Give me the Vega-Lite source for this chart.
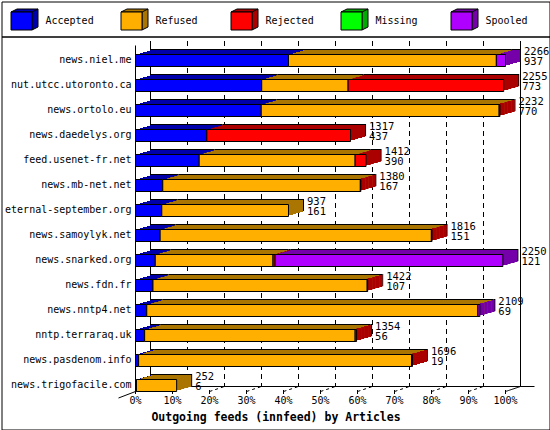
{
  "$schema": "https://vega.github.io/schema/vega-lite/v6.json",
  "padding": {"left": 0.5, "top": 0.5, "right": 0, "bottom": 0},
  "spacing": 0,
  "bounds": "flush",
  "background": "white",
  "config": {
    "font": "DejaVu Sans Mono",
    "view": {"stroke": "black", "strokeWidth": 1},
    "axis": {"grid": false, "translate": 0, "domainColor": "black", "tickColor": "black", "labelColor": "black", "titleColor": "black", "labelFont": "DejaVu Sans Mono", "titleFont": "DejaVu Sans Mono"}
  },
  "datasets": {
    "feeds": [
      {"feed": "news.niel.me", "cat": "Accepted", "n": 937},
      {"feed": "news.niel.me", "cat": "Refused", "n": 1273},
      {"feed": "news.niel.me", "cat": "Spooled", "n": 56},
      {"feed": "nut.utcc.utoronto.ca", "cat": "Accepted", "n": 773},
      {"feed": "nut.utcc.utoronto.ca", "cat": "Refused", "n": 529},
      {"feed": "nut.utcc.utoronto.ca", "cat": "Rejected", "n": 953},
      {"feed": "news.ortolo.eu", "cat": "Accepted", "n": 770},
      {"feed": "news.ortolo.eu", "cat": "Refused", "n": 1457},
      {"feed": "news.ortolo.eu", "cat": "Rejected", "n": 5},
      {"feed": "news.daedelys.org", "cat": "Accepted", "n": 437},
      {"feed": "news.daedelys.org", "cat": "Rejected", "n": 880},
      {"feed": "feed.usenet-fr.net", "cat": "Accepted", "n": 390},
      {"feed": "feed.usenet-fr.net", "cat": "Refused", "n": 955},
      {"feed": "feed.usenet-fr.net", "cat": "Rejected", "n": 67},
      {"feed": "news.mb-net.net", "cat": "Accepted", "n": 167},
      {"feed": "news.mb-net.net", "cat": "Refused", "n": 1210},
      {"feed": "news.mb-net.net", "cat": "Rejected", "n": 3},
      {"feed": "eternal-september.org", "cat": "Accepted", "n": 161},
      {"feed": "eternal-september.org", "cat": "Refused", "n": 776},
      {"feed": "news.samoylyk.net", "cat": "Accepted", "n": 151},
      {"feed": "news.samoylyk.net", "cat": "Refused", "n": 1661},
      {"feed": "news.samoylyk.net", "cat": "Rejected", "n": 4},
      {"feed": "news.snarked.org", "cat": "Accepted", "n": 121},
      {"feed": "news.snarked.org", "cat": "Refused", "n": 721},
      {"feed": "news.snarked.org", "cat": "Rejected", "n": 13},
      {"feed": "news.snarked.org", "cat": "Spooled", "n": 1395},
      {"feed": "news.fdn.fr", "cat": "Accepted", "n": 107},
      {"feed": "news.fdn.fr", "cat": "Refused", "n": 1312},
      {"feed": "news.fdn.fr", "cat": "Rejected", "n": 3},
      {"feed": "news.nntp4.net", "cat": "Accepted", "n": 69},
      {"feed": "news.nntp4.net", "cat": "Refused", "n": 2028},
      {"feed": "news.nntp4.net", "cat": "Spooled", "n": 12},
      {"feed": "nntp.terraraq.uk", "cat": "Accepted", "n": 56},
      {"feed": "nntp.terraraq.uk", "cat": "Refused", "n": 1289},
      {"feed": "nntp.terraraq.uk", "cat": "Rejected", "n": 9},
      {"feed": "news.pasdenom.info", "cat": "Accepted", "n": 19},
      {"feed": "news.pasdenom.info", "cat": "Refused", "n": 1672},
      {"feed": "news.pasdenom.info", "cat": "Rejected", "n": 5},
      {"feed": "news.trigofacile.com", "cat": "Accepted", "n": 6},
      {"feed": "news.trigofacile.com", "cat": "Refused", "n": 246}
    ],
    "grid": [
      {"pct": 0}, {"pct": 10}, {"pct": 20}, {"pct": 30}, {"pct": 40}, {"pct": 50},
      {"pct": 60}, {"pct": 70}, {"pct": 80}, {"pct": 90}, {"pct": 100}
    ],
    "cats": [
      {"cat": "Accepted"}, {"cat": "Refused"}, {"cat": "Rejected"}, {"cat": "Missing"}, {"cat": "Spooled"}
    ]
  },
  "resolve": {"scale": {"x": "independent", "y": "independent", "color": "independent", "fill": "independent"}},
  "vconcat": [
    {
      "width": 548,
      "height": 35,
      "data": {"name": "cats"},
      "layer": [
        {
          "mark": {"type": "point", "shape": "M-1.05,-0.9L-0.45,-1.2H1.65V0.6L1.05,0.9V-0.9Z M1.05,-0.9L1.65,-1.2", "size": 400, "filled": true, "opacity": 1, "stroke": "black", "strokeWidth": 1, "xOffset": -34.5, "yOffset": 2},
          "encoding": {
            "x": {"field": "cat", "type": "nominal", "sort": null, "scale": {"type": "band", "domain": ["Accepted", "Refused", "Rejected", "Missing", "Spooled"], "range": [-0.5, 549.5], "paddingInner": 0, "paddingOuter": 0}, "axis": null},
            "color": {"field": "cat", "type": "nominal", "scale": {"domain": ["Accepted", "Refused", "Rejected", "Missing", "Spooled"], "range": ["#0000AA", "#AA7500", "#AA0000", "#00AA00", "#7500AA"]}, "legend": null}
          }
        },
        {
          "mark": {"type": "point", "shape": "M-1.05,-0.9H1.05V0.9H-1.05Z", "size": 400, "filled": true, "opacity": 1, "stroke": "black", "strokeWidth": 1, "xOffset": -34.5, "yOffset": 2},
          "encoding": {
            "x": {"field": "cat", "type": "nominal", "sort": null, "scale": {"type": "band", "domain": ["Accepted", "Refused", "Rejected", "Missing", "Spooled"], "range": [-0.5, 549.5], "paddingInner": 0, "paddingOuter": 0}, "axis": null},
            "fill": {"field": "cat", "type": "nominal", "scale": {"domain": ["Accepted", "Refused", "Rejected", "Missing", "Spooled"], "range": ["#0000FF", "#FFAF00", "#FF0000", "#00FF00", "#AF00FF"]}, "legend": null}
          }
        },
        {
          "mark": {"type": "text", "align": "left", "baseline": "middle", "dx": -10.5, "dy": 2, "fontSize": 10, "font": "DejaVu Sans Mono", "color": "black"},
          "encoding": {
            "x": {"field": "cat", "type": "nominal", "sort": null, "scale": {"type": "band", "domain": ["Accepted", "Refused", "Rejected", "Missing", "Spooled"], "range": [-0.5, 549.5], "paddingInner": 0, "paddingOuter": 0}, "axis": null},
            "text": {"field": "cat", "type": "nominal"}
          }
        }
      ]
    },
    {
      "width": 548,
      "height": 393,
      "resolve": {"scale": {"x": "independent"}, "axis": {"x": "independent"}},
      "layer": [
        {
          "data": {"name": "grid"},
          "layer": [
            {
              "mark": {"type": "rule", "color": "black", "strokeWidth": 1, "yOffset": -19.5, "y2Offset": 0.5},
              "encoding": {
                "x": {"field": "pct", "type": "quantitative", "scale": {"domain": [0, 100], "range": [149, 519], "nice": false}, "axis": null},
                "y": {"datum": "news.niel.me", "type": "nominal", "title": null,
                      "scale": {"type": "band", "domain": ["news.niel.me", "nut.utcc.utoronto.ca", "news.ortolo.eu", "news.daedelys.org", "feed.usenet-fr.net", "news.mb-net.net", "eternal-september.org", "news.samoylyk.net", "news.snarked.org", "news.fdn.fr", "news.nntp4.net", "nntp.terraraq.uk", "news.pasdenom.info", "news.trigofacile.com"], "range": [9, 355], "paddingInner": 0.52, "paddingOuter": 0.18, "align": 1},
                      "axis": {"orient": "left", "offset": -134, "ticks": false, "labelPadding": 4, "labelFontSize": 10, "domain": true, "title": null}},
                "y2": {"datum": "news.trigofacile.com"},
                "strokeDash": {"condition": {"test": "datum.pct == 0 || datum.pct == 100", "value": [1, 0]}, "value": [5, 4]}
              }
            },
            {
              "transform": [{"filter": "datum.pct == 0"}],
              "mark": {"type": "rule", "color": "black", "strokeWidth": 1, "x2Offset": 14, "yOffset": 1, "y2Offset": 1},
              "encoding": {
                "x": {"field": "pct", "type": "quantitative", "axis": null},
                "x2": {"datum": 100},
                "y": {"datum": "news.trigofacile.com", "type": "nominal", "title": null},
                "y2": {"datum": "news.trigofacile.com"}
              }
            }
          ]
        },
        {
          "data": {"name": "grid"},
          "layer": [
            {
              "mark": {"type": "rule", "color": "black", "strokeWidth": 1, "x2Offset": 15, "yOffset": 6, "y2Offset": 1},
              "encoding": {
                "x": {"field": "pct", "type": "quantitative", "scale": {"domain": [0, 100], "range": [134, 504], "nice": false},
                      "axis": {"orient": "bottom", "offset": -39.5, "values": [0, 10, 20, 30, 40, 50, 60, 70, 80, 90, 100], "labelExpr": "datum.value + '%'", "domain": false, "ticks": true, "tickSize": 4, "labelFontSize": 10, "labelPadding": 2, "labelFlush": false, "labelOverlap": false, "title": "Outgoing feeds (innfeed) by Articles", "titleFontSize": 11.5, "titleFontWeight": "bold", "titleX": 274.5, "titleY": 31, "titleAlign": "center", "titleBaseline": "alphabetic"}},
                "x2": {"field": "pct"},
                "y": {"datum": "news.trigofacile.com", "type": "nominal", "title": null},
                "y2": {"datum": "news.trigofacile.com"},
                "strokeDash": {"condition": {"test": "datum.pct == 0 || datum.pct == 100", "value": [1, 0]}, "value": [3, 3]}
              }
            },
            {
              "transform": [{"filter": "datum.pct == 0"}],
              "mark": {"type": "rule", "color": "black", "strokeWidth": 1, "xOffset": -17, "yOffset": 12.5, "y2Offset": 6},
              "encoding": {
                "x": {"field": "pct", "type": "quantitative"},
                "x2": {"field": "pct"},
                "y": {"datum": "news.trigofacile.com", "type": "nominal", "title": null},
                "y2": {"datum": "news.trigofacile.com"}
              }
            }
          ]
        },
        {
          "data": {"name": "feeds"},
          "encoding": {
            "y": {"field": "feed", "type": "nominal", "title": null, "sort": null}
          },
          "layer": [
            {
              "mark": {"type": "bar", "color": "black", "xOffset": 15.5, "x2Offset": 15.5, "yOffset": -5.5, "y2Offset": -5.5},
              "encoding": {
                "x": {"field": "n", "type": "quantitative", "stack": "zero", "scale": {"domain": [0, 2266], "range": [134, 504], "nice": false}, "axis": null},
                "detail": {"field": "cat"},
                "order": {"field": "cat", "sort": "ascending"}
              }
            },
            {
              "mark": {"type": "bar", "xOffset": 14.5, "x2Offset": 14.5, "yOffset": -4.5, "y2Offset": -4.5},
              "encoding": {
                "x": {"field": "n", "type": "quantitative", "stack": "zero", "scale": {"domain": [0, 2266], "range": [134, 504], "nice": false}, "axis": null},
                "color": {"field": "cat", "type": "nominal", "scale": {"domain": ["Accepted", "Refused", "Rejected", "Missing", "Spooled"], "range": ["#0000AA", "#AA7500", "#AA0000", "#00AA00", "#7500AA"]}, "legend": null},
                "order": {"field": "cat", "sort": "ascending"}
              }
            },
            {
              "mark": {"type": "bar", "xOffset": 11.5, "x2Offset": 11.5, "yOffset": -3.5, "y2Offset": -3.5},
              "encoding": {
                "x": {"field": "n", "type": "quantitative", "stack": "zero", "scale": {"domain": [0, 2266], "range": [134, 504], "nice": false}, "axis": null},
                "color": {"field": "cat", "type": "nominal", "scale": {"domain": ["Accepted", "Refused", "Rejected", "Missing", "Spooled"], "range": ["#0000AA", "#AA7500", "#AA0000", "#00AA00", "#7500AA"]}, "legend": null},
                "order": {"field": "cat", "sort": "ascending"}
              }
            },
            {
              "mark": {"type": "bar", "xOffset": 7.5, "x2Offset": 7.5, "yOffset": -2.5, "y2Offset": -2.5},
              "encoding": {
                "x": {"field": "n", "type": "quantitative", "stack": "zero", "scale": {"domain": [0, 2266], "range": [134, 504], "nice": false}, "axis": null},
                "color": {"field": "cat", "type": "nominal", "scale": {"domain": ["Accepted", "Refused", "Rejected", "Missing", "Spooled"], "range": ["#0000AA", "#AA7500", "#AA0000", "#00AA00", "#7500AA"]}, "legend": null},
                "order": {"field": "cat", "sort": "ascending"}
              }
            },
            {
              "mark": {"type": "bar", "xOffset": 4.5, "x2Offset": 4.5, "yOffset": -1.5, "y2Offset": -1.5},
              "encoding": {
                "x": {"field": "n", "type": "quantitative", "stack": "zero", "scale": {"domain": [0, 2266], "range": [134, 504], "nice": false}, "axis": null},
                "color": {"field": "cat", "type": "nominal", "scale": {"domain": ["Accepted", "Refused", "Rejected", "Missing", "Spooled"], "range": ["#0000AA", "#AA7500", "#AA0000", "#00AA00", "#7500AA"]}, "legend": null},
                "order": {"field": "cat", "sort": "ascending"}
              }
            },
            {
              "transform": [
                {"joinaggregate": [{"op": "sum", "field": "n", "as": "total"}], "groupby": ["feed"]},
                {"window": [{"op": "sum", "field": "n", "as": "cum"}], "groupby": ["feed"], "sort": [{"field": "cat", "order": "ascending"}]},
                {"filter": "datum.cum == datum.total"}
              ],
              "layer": [
                {
                  "mark": {"type": "bar", "xOffset": 11.5, "x2Offset": 14.5, "yOffset": -4.5, "y2Offset": -4.5},
                  "encoding": {
                    "x": {"field": "total", "type": "quantitative", "scale": {"domain": [0, 2266], "range": [134, 504], "nice": false}, "axis": null},
                    "x2": {"field": "total"},
                    "color": {"field": "cat", "type": "nominal", "scale": {"domain": ["Accepted", "Refused", "Rejected", "Missing", "Spooled"], "range": ["#0000AA", "#AA7500", "#AA0000", "#00AA00", "#7500AA"]}, "legend": null}
                  }
                },
                {
                  "mark": {"type": "bar", "xOffset": 7.5, "x2Offset": 11.5, "yOffset": -3.5, "y2Offset": -3.5},
                  "encoding": {
                    "x": {"field": "total", "type": "quantitative", "scale": {"domain": [0, 2266], "range": [134, 504], "nice": false}, "axis": null},
                    "x2": {"field": "total"},
                    "color": {"field": "cat", "type": "nominal", "scale": {"domain": ["Accepted", "Refused", "Rejected", "Missing", "Spooled"], "range": ["#0000AA", "#AA7500", "#AA0000", "#00AA00", "#7500AA"]}, "legend": null}
                  }
                },
                {
                  "mark": {"type": "bar", "xOffset": 4.5, "x2Offset": 7.5, "yOffset": -2.5, "y2Offset": -2.5},
                  "encoding": {
                    "x": {"field": "total", "type": "quantitative", "scale": {"domain": [0, 2266], "range": [134, 504], "nice": false}, "axis": null},
                    "x2": {"field": "total"},
                    "color": {"field": "cat", "type": "nominal", "scale": {"domain": ["Accepted", "Refused", "Rejected", "Missing", "Spooled"], "range": ["#0000AA", "#AA7500", "#AA0000", "#00AA00", "#7500AA"]}, "legend": null}
                  }
                },
                {
                  "mark": {"type": "bar", "xOffset": 0, "x2Offset": 4.5, "yOffset": -1.5, "y2Offset": -1.5},
                  "encoding": {
                    "x": {"field": "total", "type": "quantitative", "scale": {"domain": [0, 2266], "range": [134, 504], "nice": false}, "axis": null},
                    "x2": {"field": "total"},
                    "color": {"field": "cat", "type": "nominal", "scale": {"domain": ["Accepted", "Refused", "Rejected", "Missing", "Spooled"], "range": ["#0000AA", "#AA7500", "#AA0000", "#00AA00", "#7500AA"]}, "legend": null}
                  }
                }
              ]
            },
            {
              "mark": {"type": "bar", "stroke": "black", "strokeWidth": 1},
              "encoding": {
                "x": {"field": "n", "type": "quantitative", "stack": "zero", "scale": {"domain": [0, 2266], "range": [134, 504], "nice": false}, "axis": null},
                "fill": {"field": "cat", "type": "nominal", "scale": {"domain": ["Accepted", "Refused", "Rejected", "Missing", "Spooled"], "range": ["#0000FF", "#FFAF00", "#FF0000", "#00FF00", "#AF00FF"]}, "legend": null},
                "order": {"field": "cat", "sort": "ascending"}
              }
            },
            {
              "transform": [
                {"joinaggregate": [{"op": "sum", "field": "n", "as": "total"}], "groupby": ["feed"]},
                {"filter": "datum.cat == 'Accepted'"}
              ],
              "mark": {"type": "text", "align": "left", "baseline": "middle", "dx": 18.5, "dy": -8.8, "fontSize": 10.5, "font": "DejaVu Sans Mono", "color": "black"},
              "encoding": {
                "x": {"field": "total", "type": "quantitative", "scale": {"domain": [0, 2266], "range": [134, 504], "nice": false}, "axis": null},
                "text": {"field": "total", "type": "quantitative", "format": "d"}
              }
            },
            {
              "transform": [
                {"joinaggregate": [{"op": "sum", "field": "n", "as": "total"}], "groupby": ["feed"]},
                {"filter": "datum.cat == 'Accepted'"}
              ],
              "mark": {"type": "text", "align": "left", "baseline": "middle", "dx": 18.5, "dy": 1.7, "fontSize": 10.5, "font": "DejaVu Sans Mono", "color": "black"},
              "encoding": {
                "x": {"field": "total", "type": "quantitative", "scale": {"domain": [0, 2266], "range": [134, 504], "nice": false}, "axis": null},
                "text": {"field": "n", "type": "quantitative", "format": "d"}
              }
            }
          ]
        }
      ]
    }
  ]
}
